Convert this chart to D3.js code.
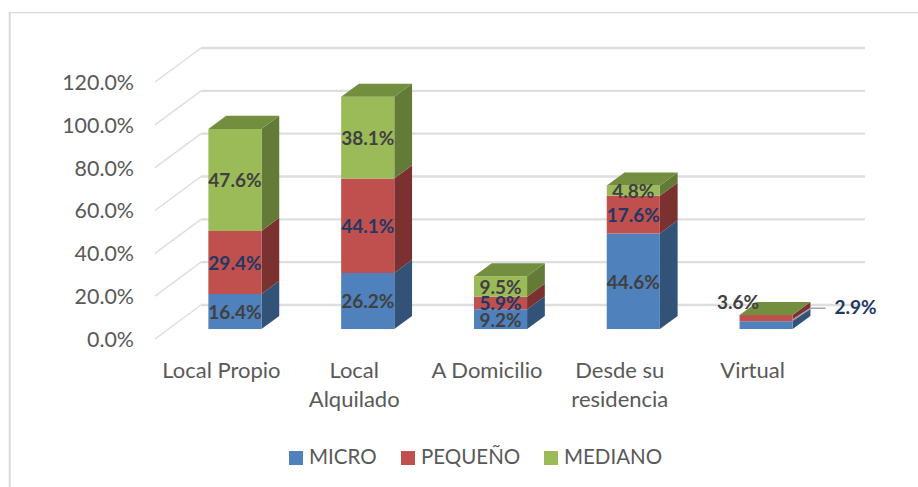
<!DOCTYPE html>
<html><head><meta charset="utf-8">
<script src="https://cdn.jsdelivr.net/npm/d3@7"></script>
<style>html,body{margin:0;padding:0;background:#fff}svg{display:block}text{font-family:Lato,"Open Sans",sans-serif}</style>
</head><body><svg id="c" width="918" height="487"></svg>
<script>
const categories = ["Local Propio", "Local Alquilado", "A Domicilio", "Desde su residencia", "Virtual"];
const categoryLines = [["Local Propio"], ["Local", "Alquilado"], ["A Domicilio"], ["Desde su", "residencia"], ["Virtual"]];
const seriesNames = ["MICRO", "PEQUEÑO", "MEDIANO"];
const micro = [16.4, 26.2, 9.2, 44.6, 3.6];
const pequeno = [29.4, 44.1, 5.9, 17.6, 2.9];
const mediano = [47.6, 38.1, 9.5, 4.8, 0];
const yTicks = [0, 20, 40, 60, 80, 100, 120];

const front = ["#4f81bd", "#c0504d", "#9bbb59"];
const side = ["#335277", "#7a312f", "#647a37"];
const topFace = ["#3f6797", "#9a403e", "#748e40"];
const labelCol = ["#404040", "#1f3864", "#404040"];

const svg = d3.select("#c");
const y = d3.scaleLinear().domain([0, 120]).range([339, 82]);
const x = d3.scaleBand().domain(categories).range([155, 819]).paddingInner(0.6).paddingOuter(0.3);
// oblique depth projection
const depth = d3.scaleLinear().domain([0, 1]).range([0, 46]);
const rise = d3.scaleLinear().domain([0, 1]).range([0, 34]);
const zFront = 0.294, zBack = 0.68;
const xOff = z => depth(z), yOff = z => rise(z);

// chart frame
svg.append("line").attr("x1",9).attr("x2",918).attr("y1",12.7).attr("y2",12.7).attr("stroke","#d9d9d9").attr("stroke-width",1.2);
svg.append("line").attr("x1",9.7).attr("x2",9.7).attr("y1",12).attr("y2",487).attr("stroke","#d9d9d9").attr("stroke-width",2);

// gridlines
const grid = svg.append("g").attr("fill","none").attr("stroke","#dedede");
yTicks.forEach(t => {
  const v = y(t);
  grid.append("path").attr("stroke-width",1.4)
    .attr("d", d3.line()([[155, v], [155 + xOff(1), v - yOff(1)]]));
  grid.append("path").attr("stroke-width",2.4)
    .attr("d", d3.line()([[155 + xOff(1), v - yOff(1)], [819 + xOff(1), v - yOff(1)]]));
});

// y axis labels
svg.append("g").selectAll("text").data(yTicks).join("text")
  .attr("x",134).attr("y",d=>y(d)+2.5).attr("text-anchor","end").attr("dominant-baseline","middle")
  .attr("font-size",21.4).attr("fill","#595959").text(d=>d3.format(".1f")(d)+"%");

// stacked bars
const rows = categories.map((c,i)=>({cat:c, MICRO:micro[i], "PEQUEÑO":pequeno[i], MEDIANO:mediano[i]}));
const stacked = d3.stack().keys(seriesNames)(rows);
const line = d3.line();
const labels = [];
categories.forEach((c,i) => {
  const g = svg.append("g");
  const bx0 = x(c) + xOff(zFront), bx1 = bx0 + x.bandwidth();
  const dx = xOff(zBack) - xOff(zFront), dy = yOff(zBack) - yOff(zFront);
  const yf = v => y(v) - yOff(zFront);
  stacked.forEach((s,k) => {
    const [a,b] = s[i];
    if (b > a) {
      g.append("path").attr("fill",side[k]).attr("d",
        line([[bx1,yf(a)],[bx1+dx,yf(a)-dy],[bx1+dx,yf(b)-dy],[bx1,yf(b)]])+"Z");
      g.append("path").attr("fill",front[k]).attr("d",
        line([[bx0,yf(a)],[bx1,yf(a)],[bx1,yf(b)],[bx0,yf(b)]])+"Z");
      if (i < 4) labels.push({x:(bx0+bx1)/2, y:(yf(a)+yf(b))/2+2.5, k, v:s[i].data[seriesNames[k]]});
    }
  });
  const total = stacked[2][i][1];
  g.append("path").attr("fill",topFace[2]).attr("d",
    line([[bx0,yf(total)],[bx1,yf(total)],[bx1+dx,yf(total)-dy],[bx0+dx,yf(total)-dy]])+"Z");
});

// Virtual: labels set outside the bar with a leader line
const vCat = categories[4];
const vx1 = x(vCat) + xOff(zFront) + x.bandwidth();
const vy = y(micro[4]) - yOff(zFront);
svg.append("path").attr("fill","none").attr("stroke","#a6a6a6").attr("stroke-width",1.4)
  .attr("d", line([[vx1, vy - 1.5],[vx1+18, vy - 13],[vx1+33, vy - 13]]));
labels.push({x:738, y:vy-17, k:0, v:micro[4]});
labels.push({x:855.5, y:vy-12, k:1, v:pequeno[4]});

svg.append("g").selectAll("text").data(labels).join("text")
  .attr("x",d=>d.x).attr("y",d=>d.y).attr("text-anchor","middle").attr("dominant-baseline","middle")
  .attr("font-size",19).attr("font-weight",700).attr("fill",d=>labelCol[d.k])
  .text(d=>d3.format(".1f")(d.v)+"%");

// category labels
categories.forEach((c,i) => {
  const cx = x(c) + x.bandwidth()/2;
  svg.append("text").attr("text-anchor","middle").attr("font-size",22).attr("fill","#595959")
    .selectAll("tspan").data(categoryLines[i]).join("tspan")
    .attr("x",cx).attr("y",(d,j)=>378+j*29).text(d=>d);
});

// legend
const legendX = [289, 401, 544];
const lg = svg.append("g");
seriesNames.forEach((n,i) => {
  lg.append("rect").attr("x",legendX[i]).attr("y",451).attr("width",14).attr("height",14).attr("fill",front[i]);
  lg.append("text").attr("x",legendX[i]+20).attr("y",464).attr("font-size",20.5).attr("fill","#595959").text(n);
});
</script></body></html>
